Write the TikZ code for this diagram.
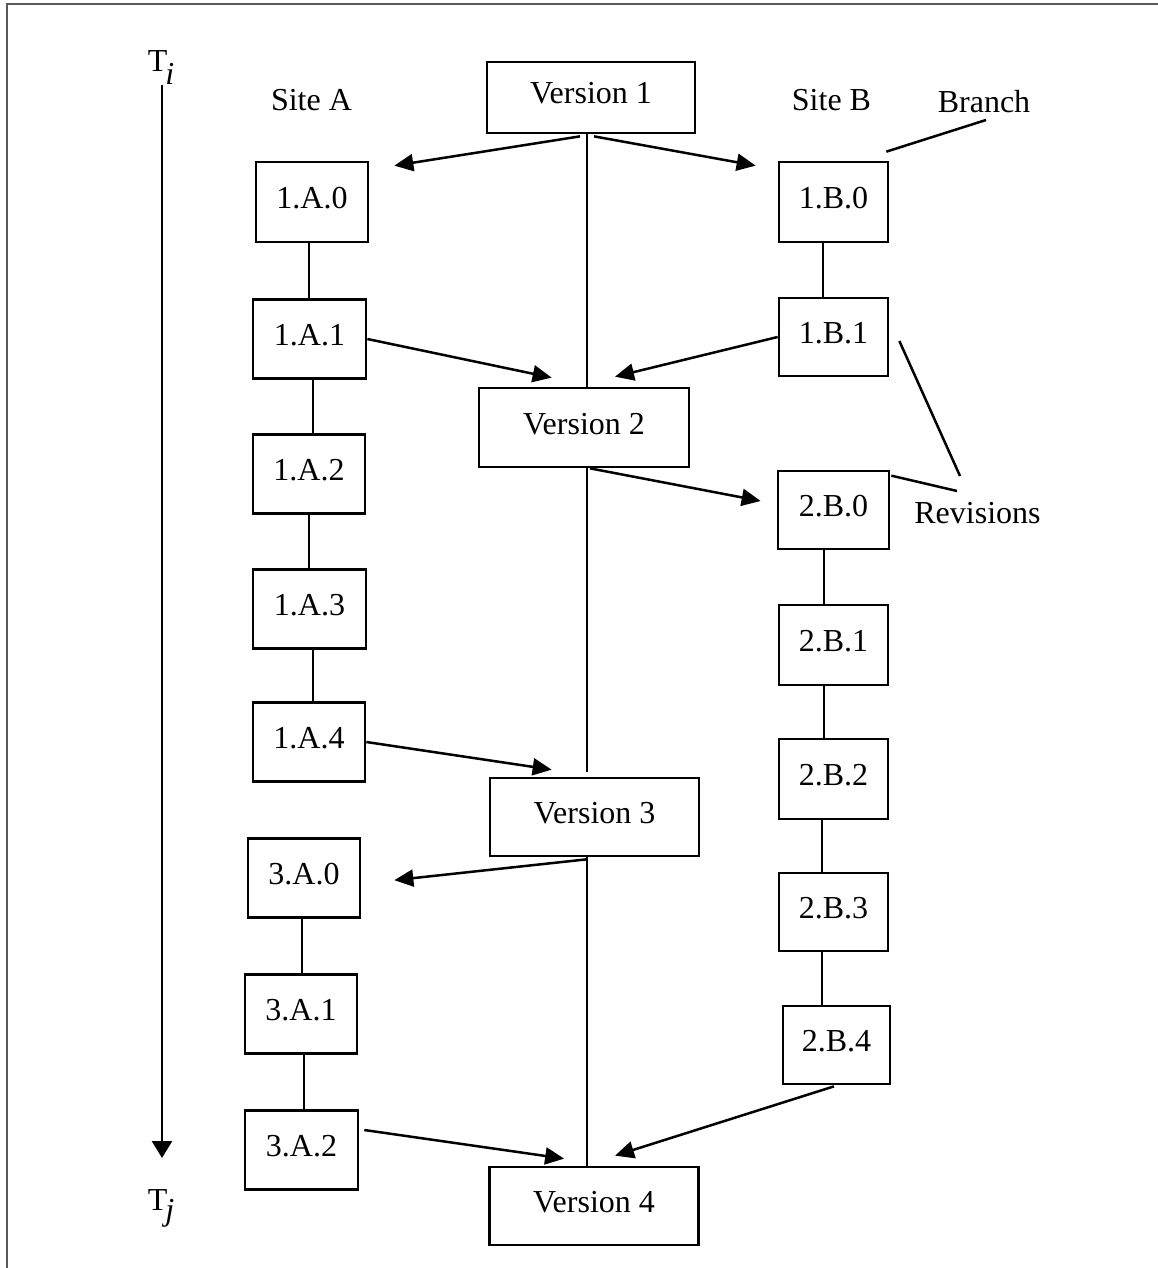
\documentclass[tikz,border=0pt]{standalone}
\usepackage{fontspec}
\setmainfont{Liberation Serif}
\usetikzlibrary{arrows.meta,calc}
\begin{document}
\begin{tikzpicture}[x=1pt,y=-1pt,
  txt/.style={font=\fontsize{32}{38}\selectfont, inner sep=0pt},
  box/.style={txt, draw, line width=2.7pt, text height=21pt, text depth=8pt},
  sbox/.style={box, minimum width=112pt, minimum height=79pt},
  vbox/.style={box, minimum width=209pt, minimum height=78pt},
  conn/.style={line width=2.5pt},
  arr/.style={line width=2.5pt, -{Triangle[length=19pt,width=17pt]}}
]
\useasboundingbox (0,0) rectangle (1158,1268);
\draw[line width=2.2pt, black!65] (7,1268) -- (7,4) -- (1158,4);

% helper x coordinates for vertical lines
\coordinate (C) at (587,0);
\coordinate (L1) at (309,0);
\coordinate (L2) at (313,0);
\coordinate (L3) at (302,0);
\coordinate (L4) at (304,0);
\coordinate (R1) at (823,0);
\coordinate (R2) at (824,0);
\coordinate (R3) at (822,0);

% time axis
\node[txt, anchor=base] (ti) at (161,72) {T\kern-2pt\raisebox{-13pt}{\itshape i}};
\node[txt, anchor=base] (tj) at (161,1210) {T\kern-2pt\raisebox{-10pt}{\itshape j}};
\draw[line width=2.6pt, -{Triangle[length=17pt,width=20pt]}] ($(ti.base)+(1,13)$) -- ($(tj.base)+(1,-52)$);

% labels
\node[txt, anchor=base] (sa) at (311.5,111) {Site A};
\node[txt, anchor=base] (sb) at (831.5,111) {Site B};
\node[txt, anchor=base] (br) at (984,113) {Branch};
\node[txt, anchor=base] (rev) at (977.5,523) {Revisions};

% versions
\node[vbox, minimum width=208pt, minimum height=71pt] (v1) at (591,97.5) {Version 1};
\node[vbox, minimum width=210pt, minimum height=79pt] (v2) at (584,427.5) {Version 2};
\node[vbox] (v3) at (594.5,817) {Version 3};
\node[vbox] (v4) at (594,1206) {Version 4};

% site A
\node[sbox, minimum height=80pt] (a0) at (312,202) {1.A.0};
\node[sbox, minimum width=113pt] (a1) at (309.5,339) {1.A.1};
\node[sbox] (a2) at (309,474) {1.A.2};
\node[sbox, minimum width=113pt] (a3) at (309.5,609) {1.A.3};
\node[sbox] (a4) at (309,742) {1.A.4};
\node[sbox] (a5) at (304,878) {3.A.0};
\node[sbox] (a6) at (301,1014) {3.A.1};
\node[sbox, minimum width=113pt] (a7) at (301.5,1150) {3.A.2};

% site B
\node[sbox, minimum width=109pt, minimum height=80pt] (b0) at (833.5,202) {1.B.0};
\node[sbox, minimum width=109pt, minimum height=78pt] (b1) at (833.5,337) {1.B.1};
\node[sbox, minimum width=111pt, minimum height=78pt] (b2) at (833.5,510) {2.B.0};
\node[sbox, minimum width=109pt, minimum height=80pt] (b3) at (833.5,645) {2.B.1};
\node[sbox, minimum width=109pt, minimum height=80pt] (b4) at (833.5,779) {2.B.2};
\node[sbox, minimum width=109pt, minimum height=78pt] (b5) at (833.5,912) {2.B.3};
\node[sbox, minimum width=107pt, minimum height=78pt] (b6) at (836.5,1045) {2.B.4};

% main line
\draw[conn] (v1.south -| C) -- (v2.north -| C);
\draw[conn] (v2.south -| C) -- ($(v3.north -| C)+(0,-5)$);
\draw[conn] (v3.south -| C) -- (v4.north -| C);

% site A revisions
\draw[conn] (a0.south -| L1) -- (a1.north -| L1);
\draw[conn] (a1.south -| L2) -- (a2.north -| L2);
\draw[conn] (a2.south -| L1) -- (a3.north -| L1);
\draw[conn] (a3.south -| L2) -- (a4.north -| L2);
\draw[conn] (a5.south -| L3) -- (a6.north -| L3);
\draw[conn] (a6.south -| L4) -- (a7.north -| L4);

% site B revisions
\draw[conn] (b0.south -| R1) -- (b1.north -| R1);
\draw[conn] (b2.south -| R2) -- (b3.north -| R2);
\draw[conn] (b3.south -| R2) -- (b4.north -| R2);
\draw[conn] (b4.south -| R3) -- (b5.north -| R3);
\draw[conn] (b5.south -| R3) -- (b6.north -| R3);

% branch / merge arrows
\draw[arr] ($(v1.south)+(-11,2)$) -- ($(a0.north east)+(25,5)$);
\draw[arr] ($(v1.south)+(3,2)$) -- ($(b0.north west)+(-22,5)$);
\draw[arr] (a1.east) -- ($(v2.north west)+(74,-9)$);
\draw[arr] (b1.west) -- ($(v2.north)+(31,-10)$);
\draw[arr] ($(v2.south)+(6,0)$) -- ($(b2.west)+(-16,-9)$);
\draw[arr] (a4.east) -- ($(v3.north west)+(63,-7)$);
\draw[arr] ($(v3.south)+(-8,2)$) -- ($(a5.north east)+(33,43)$);
\draw[arr] ($(a7.east)+(5,-20)$) -- ($(v4.north west)+(76,-7)$);
\draw[arr] ($(b6.south)+(-2.5,1)$) -- ($(v4.north)+(21,-10)$);

% annotations
\draw[conn] ($(b0.north east)+(-3,-9)$) -- ($(br.base)+(2,7)$);
\draw[conn] ($(b1.east)+(10,4)$) -- ($(rev.base)+(-17.5,-47)$);
\draw[conn] ($(b2.north east)+(1,6)$) -- ($(rev.base)+(-20.5,-32)$);
\end{tikzpicture}
\end{document}
